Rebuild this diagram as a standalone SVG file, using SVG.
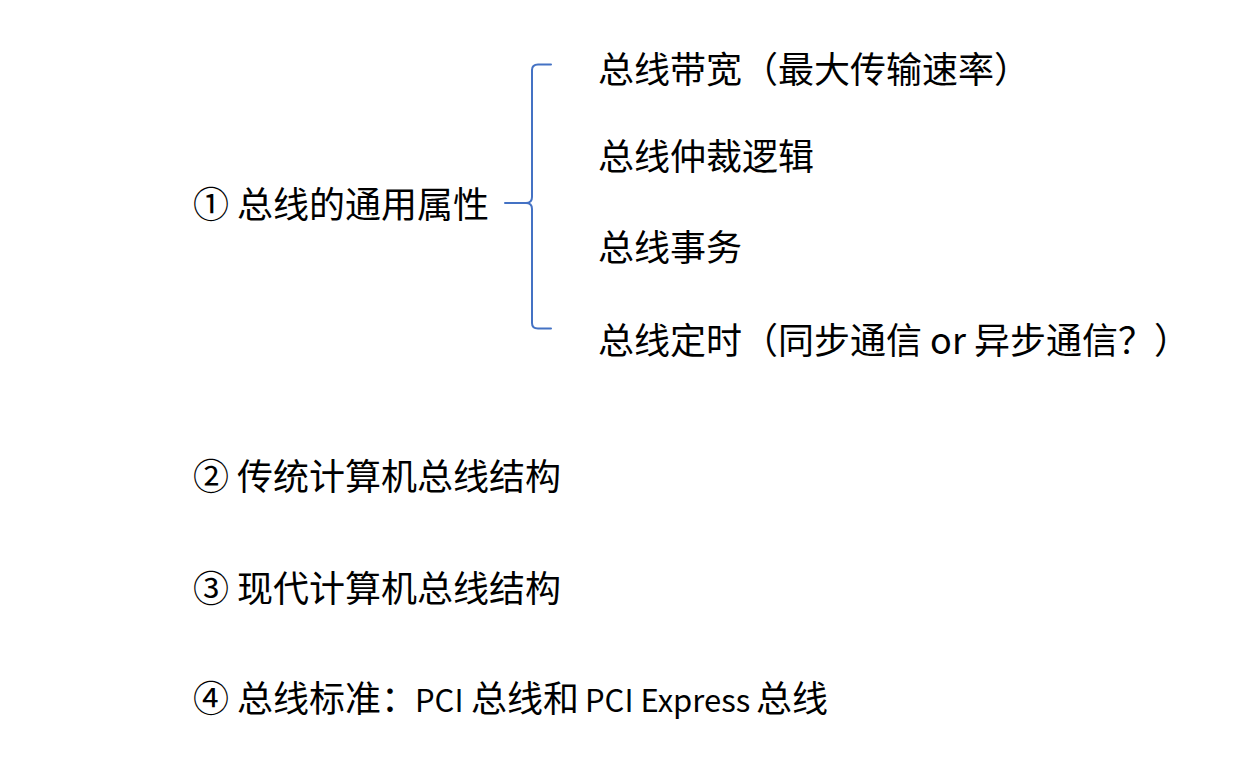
<svg xmlns="http://www.w3.org/2000/svg" width="1251" height="776" viewBox="0 0 1251 776">
<style>
.t{font-family:"Microsoft YaHei","Noto Sans CJK SC","Noto Sans",sans-serif;font-size:36px;fill:#000}
.l{font-size:31px}
.m{font-size:31px}
.br{fill:none;stroke:#4472C4;stroke-width:2;stroke-linecap:round;stroke-linejoin:round}
</style>
<rect width="1251" height="776" fill="#fff"/>
<g id="connectors">
<path class="br" d="M551,64.5 L538,64.5 Q532,64.5 532,70 L532,197 Q532,203 526,203 L505,203 M526,203 Q532,203 532,209 L532,323 Q532,328.5 538,328.5 L551,328.5"/>
</g>
<g id="n1"><text class="t" x="193" y="218">① 总线的通用属性</text></g>
<g id="n1a"><text class="t" x="598" y="83">总线带宽（最大传输速率）</text></g>
<g id="n1b"><text class="t" x="598" y="170">总线仲裁逻辑</text></g>
<g id="n1c"><text class="t" x="598" y="261">总线事务</text></g>
<g id="n1d"><text class="t" x="598" y="354">总线定时（同步通信 or 异步通信？）</text></g>
<g id="n2"><text class="t" x="193" y="490">② 传统计算机总线结构</text></g>
<g id="n3"><text class="t" x="193" y="602">③ 现代计算机总线结构</text></g>
<g id="n4">
<text class="t" x="193" y="712">④ 总线标准：</text>
<text class="t l" x="415" y="712">PCI</text>
<text class="t" x="471" y="712">总线和</text>
<text class="t m" x="585" y="712">PCI Express</text>
<text class="t" x="756" y="712">总线</text>
</g>
</svg>
